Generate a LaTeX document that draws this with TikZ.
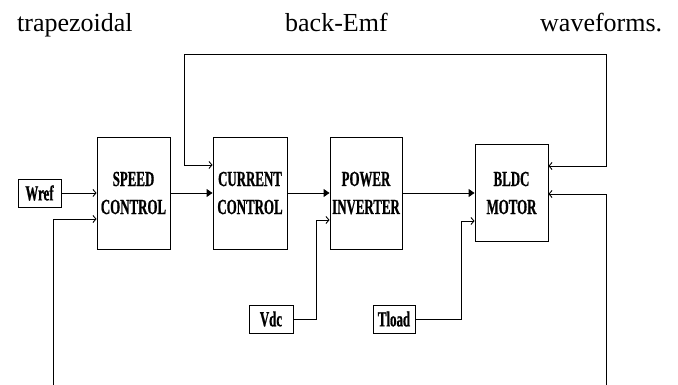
\documentclass[tikz,border=0pt]{standalone}
\usepackage{fontspec}
\setmainfont{Liberation Serif}
\newfontfamily\blockfont[FakeStretch=0.6,FakeBold=0.8]{Liberation Serif}
\usetikzlibrary{arrows.meta}

\tikzset{
  block/.style={draw, line width=0.9pt, align=center, inner sep=0pt,
    font=\blockfont\bfseries\fontsize{21.5}{28}\selectfont},
  inbox/.style={block, minimum height=28pt},
  wire/.style={line width=0.9pt},
  inarrow/.style={wire, -{Straight Barb[length=3pt,width=7pt]}},
  biarrow/.style={wire, {Straight Barb[length=3pt,width=7pt]}-{Straight Barb[length=3pt,width=7pt]}},
  fwarrow/.style={wire, -{Triangle[length=6pt,width=8pt]}},
  caption/.style={anchor=base west, inner sep=0pt, font=\fontsize{26}{30}\selectfont}
}

\begin{document}
\begin{tikzpicture}[x=1pt,y=-1pt]
            \clip (0,0) rectangle (678,385);
            % line of text above the diagram
            \node[caption] (w1) at (17,32) {trapezoidal};
            \node[caption] (w2) at (285,32) {back-Emf};
            \node[caption] (w3) at (540,32) {waveforms.};
            % blocks
            \node[block, minimum width=73pt, minimum height=112pt] (speed) at (133.5,193) {SPEED\\CONTROL};
            \node[block, minimum width=74pt, minimum height=112pt] (current) at (250,193) {CURRENT\\CONTROL};
            \node[block, minimum width=72pt, minimum height=112pt] (power) at (366,193) {POWER\\INVERTER};
            \node[block, minimum width=73pt, minimum height=97pt] (bldc) at (511.5,193) {BLDC\\MOTOR};
            % inputs
            \node[inbox, minimum width=43pt] (wref) at (39.5,193) {Wref};
            \node[inbox, minimum width=44pt] (vdc) at (271,319) {Vdc};
            \node[inbox, minimum width=42pt] (tload) at (394,319) {Tload};
            \coordinate (vin) at (316,220);
            \coordinate (tin) at (461,221);
            \coordinate (cfb) at (184,165);
            \coordinate (mfb) at (606,166);
            \coordinate (sfb) at (53,219);
            \coordinate (mfb2) at (606,194);
            % forward path
            \draw[inarrow] (wref) -- (speed.west |- wref);
            \draw[fwarrow] (speed) -- (current);
            \draw[fwarrow] (current) -- (power);
            \draw[fwarrow] (power) -- (bldc);
            \draw[inarrow] (vdc.east) -| (vin) -- (power.west |- vin);
            \draw[inarrow] (tload.east) -| (tin) -- (bldc.west |- tin);
            % feedback loops
            \draw[biarrow] (current.west |- cfb) -| (184,54) -| (mfb) -- (bldc.east |- mfb);
            \draw[biarrow] (speed.west |- sfb) -| (53,400) -| (mfb2) -- (bldc.east |- mfb2);
\end{tikzpicture}
\end{document}
